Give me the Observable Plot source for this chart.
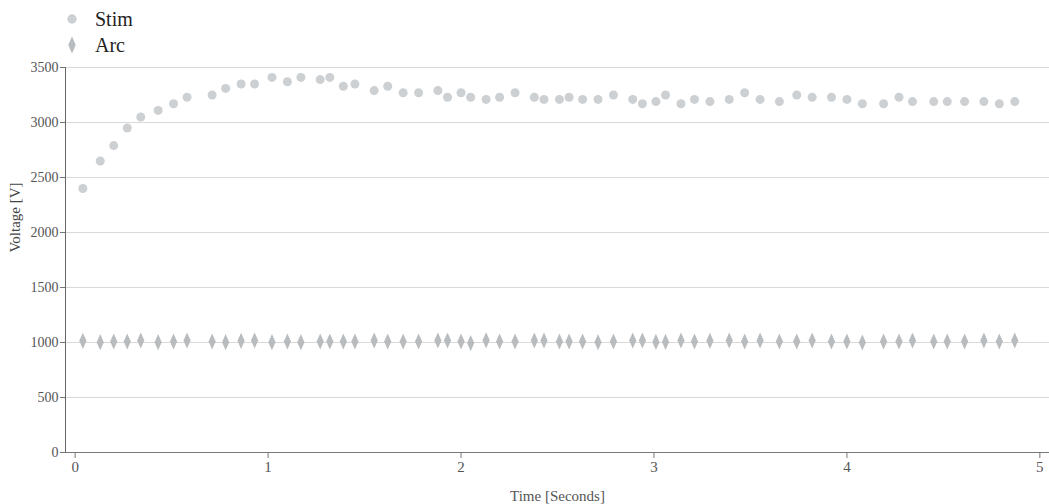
<!DOCTYPE html>
<html>
<head>
<meta charset="utf-8">
<script src="https://cdn.jsdelivr.net/npm/d3@7"></script>
<script src="https://cdn.jsdelivr.net/npm/@observablehq/plot@0.6"></script>
<style>
  html, body { margin: 0; padding: 0; background: #fff; }
  #legend { position: relative; width: 1049px; height: 57px; font-family: "Liberation Serif", "Times New Roman", serif; font-size: 20px; color: #222; }
  .row { position: absolute; left: 0; height: 26px; line-height: 26px; }
  .row svg { position: absolute; left: 62px; top: 0; }
  .row span { position: absolute; left: 95px; top: 0; white-space: nowrap; font-family: "Liberation Serif", "Times New Roman", serif; }
</style>
</head>
<body>
<div id="legend"></div>
<div id="chart"></div>
<script>
const time = [0.04,0.13,0.20,0.27,0.34,0.43,0.51,0.58,0.71,0.78,0.86,0.93,1.02,1.10,1.17,1.27,1.32,1.39,1.45,1.55,
  1.62,1.70,1.78,1.88,1.93,2.00,2.05,2.13,2.20,2.28,2.38,2.43,2.51,2.56,2.63,2.71,2.79,2.89,2.94,3.01,
  3.06,3.14,3.21,3.29,3.39,3.47,3.55,3.65,3.74,3.82,3.92,4.00,4.08,4.19,4.27,4.34,4.45,4.52,4.61,4.71,
  4.79,4.87];
const stimVoltage = [2400,2650,2790,2950,3050,3110,3170,3230,3250,3310,3350,3350,3410,3370,3410,3390,3410,3330,3350,3290,
  3330,3270,3270,3290,3230,3270,3230,3210,3230,3270,3230,3210,3210,3230,3210,3210,3250,3210,3170,3190,
  3250,3170,3210,3190,3210,3270,3210,3190,3250,3230,3230,3210,3170,3170,3230,3190,3190,3190,3190,3190,
  3170,3190];
const arcVoltage = [1015,1003,1009,1009,1018,1003,1009,1018,1009,1003,1015,1018,1003,1009,1003,1009,1009,1009,1009,1018,
  1009,1009,1009,1018,1018,1009,995,1020,1009,1009,1018,1018,1009,1009,1009,1003,1009,1018,1018,1005,
  1005,1018,1009,1015,1018,1009,1018,1009,1009,1018,1009,1009,1000,1009,1009,1018,1009,1009,1009,1018,
  1009,1018];
const seriesNames = ["Stim", "Arc"];
const seriesColors = ["#cdd0d3", "#b9bcbe"];
const xTicks = [0, 1, 2, 3, 4, 5];
const yTicks = [0, 500, 1000, 1500, 2000, 2500, 3000, 3500];
const xLabel = "Time [Seconds]";
const yLabel = "Voltage [V]";

const tallDiamond = {
  draw(context, size) {
    const r = Math.sqrt(size / Math.PI);
    const h = r * 1.8, w = r * 0.8;
    context.moveTo(0, -h);
    context.lineTo(w, 0);
    context.lineTo(0, h);
    context.lineTo(-w, 0);
    context.closePath();
  }
};
const seriesSymbols = [d3.symbolCircle, tallDiamond];
const R = 4.5;

const stim = time.map((t, i) => ({t, v: stimVoltage[i]}));
const arc = time.map((t, i) => ({t, v: arcVoltage[i]}));

// legend
const legend = document.getElementById("legend");
seriesNames.forEach((name, i) => {
  const row = document.createElement("div");
  row.className = "row";
  row.style.top = (6 + i * 26) + "px";
  const path = d3.symbol(seriesSymbols[i], R * R * Math.PI * 1.1)();
  row.innerHTML = `<svg width="20" height="26"><path transform="translate(10,13)" d="${path}" fill="${seriesColors[i]}"></path></svg><span>${name}</span>`;
  legend.appendChild(row);
});

const chart = Plot.plot({
  width: 1049,
  height: 447,
  marginTop: 10,
  marginBottom: 52,
  marginLeft: 65,
  marginRight: 0,
  style: {fontFamily: "'Liberation Serif', 'Times New Roman', serif", fontSize: "14px", color: "#555", background: "#fff"},
  x: {domain: [-0.05, 5.05]},
  y: {domain: [0, 3500]},
  marks: [
    Plot.gridY(yTicks.filter(d => d > 0), {stroke: "#d9d9d9", strokeOpacity: 1}),
    Plot.axisY({ticks: yTicks, tickFormat: d3.format("d"), tickSize: 5, tickPadding: 2, label: null, stroke: "#777"}),
    Plot.axisX({ticks: xTicks, tickFormat: d3.format("d"), tickSize: 6, tickPadding: 3, label: xLabel, labelAnchor: "center", labelArrow: "none", labelOffset: 48, fontSize: 15, stroke: "#777"}),
    Plot.frame({anchor: "left", stroke: "#666"}),
    Plot.frame({anchor: "bottom", stroke: "#777"}),
    Plot.dot(stim, {x: "t", y: "v", r: R, fill: seriesColors[0], symbol: seriesSymbols[0]}),
    Plot.dot(arc, {x: "t", y: "v", r: R, fill: seriesColors[1], symbol: seriesSymbols[1]}),
    Plot.text([yLabel], {frameAnchor: "top-left", dx: -50, dy: 150, rotate: -90, textAnchor: "middle", lineAnchor: "middle", fontSize: 15, fill: "#444"})
  ]
});
document.getElementById("chart").appendChild(chart);
</script>
</body>
</html>
